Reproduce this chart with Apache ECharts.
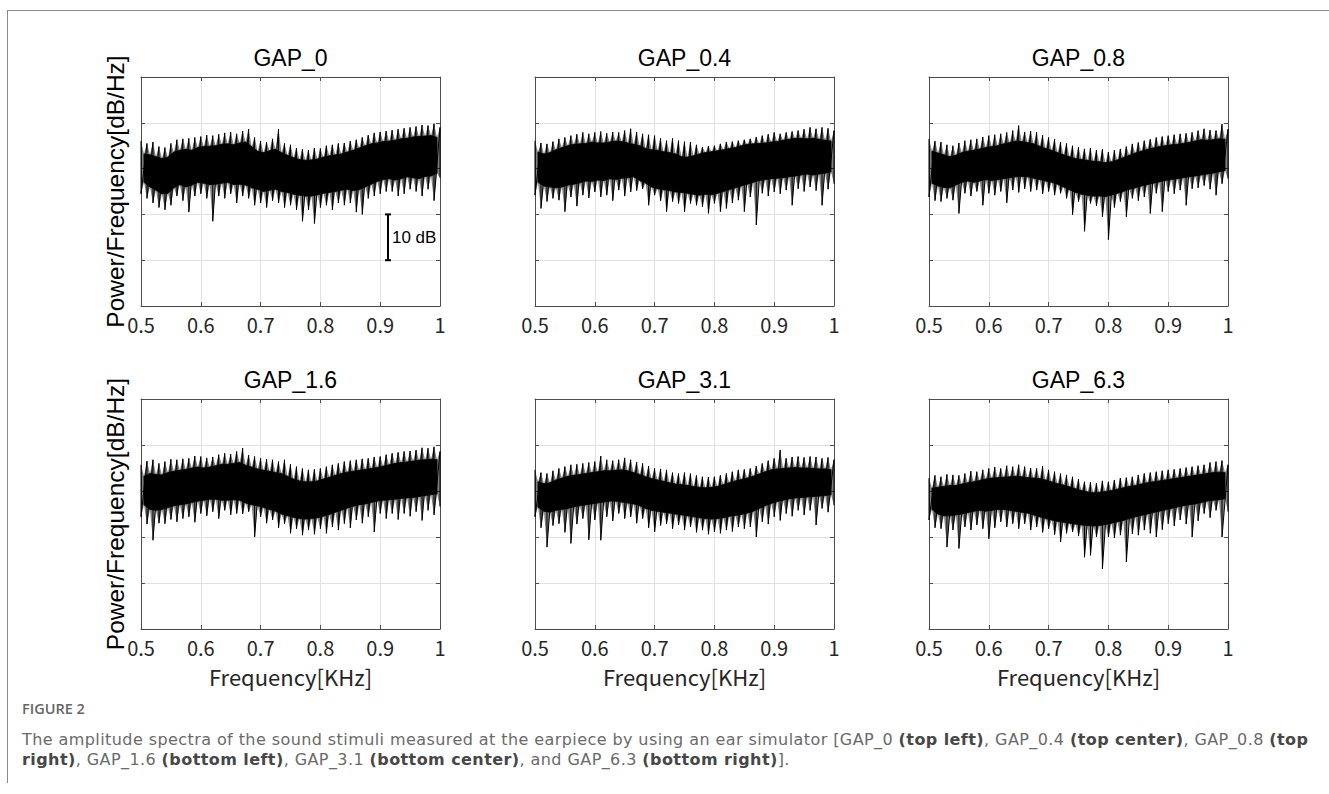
<!DOCTYPE html>
<html>
<head>
<meta charset="utf-8">
<script src="https://cdn.jsdelivr.net/npm/echarts@6/dist/echarts.min.js"></script>
<style>
html,body{margin:0;padding:0;background:#fff;}
#chart{position:absolute;left:0;top:0;width:1329px;height:794px;}
#frame{position:absolute;left:7px;top:10px;width:1322px;height:772px;border-top:1px solid #8a8a8a;border-left:1px solid #8a8a8a;}
#cap{position:absolute;left:22px;top:700px;width:1305px;color:#666;}
#cap .fig{font-family:'Open Sans',sans-serif;font-size:14.5px;font-weight:600;color:#666;line-height:18px;}
#cap .txt{font-family:'DejaVu Sans',sans-serif;font-size:16px;letter-spacing:0.42px;line-height:20px;margin-top:12px;white-space:nowrap;color:#6a6a6a;}
#cap b{color:#474747;font-weight:700;}
</style>
</head>
<body>
<div id="frame"></div>
<div id="chart"></div>
<div id="cap">
<div class="fig">FIGURE 2</div>
<div class="txt">The amplitude spectra of the sound stimuli measured at the earpiece by using an ear simulator [GAP_0 <b>(top left)</b>, GAP_0.4 <b>(top center)</b>, GAP_0.8 <b>(top</b><br><b>right)</b>, GAP_1.6 <b>(bottom left)</b>, GAP_3.1 <b>(bottom center)</b>, and GAP_6.3 <b>(bottom right)</b>].</div>
</div>
<script>
// ---------------- DATA ----------------
const panelTitles = ['GAP_0', 'GAP_0.4', 'GAP_0.8', 'GAP_1.6', 'GAP_3.1', 'GAP_6.3'];
const xTickLabels = ['0.5', '0.6', '0.7', '0.8', '0.9', '1'];
const xAxisName = 'Frequency[KHz]';
const yAxisName = 'Power/Frequency[dB/Hz]';
const scaleBarLabel = '10 dB';
const scaleBar = [0.913, 10, 20]; // freq, from dB, to dB

// frequency sample points (kHz): spike samples and in-between (core edge) samples
const freqTips = [0.50,0.51,0.52,0.53,0.54,0.55,0.56,0.57,0.58,0.59,0.60,0.61,0.62,0.63,0.64,0.65,0.66,0.67,0.68,0.69,0.70,0.71,0.72,0.73,0.74,0.75,0.76,0.77,0.78,0.79,0.80,0.81,0.82,0.83,0.84,0.85,0.86,0.87,0.88,0.89,0.90,0.91,0.92,0.93,0.94,0.95,0.96,0.97,0.98,0.99,1.00];
const freqMids = [0.505,0.515,0.525,0.535,0.545,0.555,0.565,0.575,0.585,0.595,0.605,0.615,0.625,0.635,0.645,0.655,0.665,0.675,0.685,0.695,0.705,0.715,0.725,0.735,0.745,0.755,0.765,0.775,0.785,0.795,0.805,0.815,0.825,0.835,0.845,0.855,0.865,0.875,0.885,0.895,0.905,0.915,0.925,0.935,0.945,0.955,0.965,0.975,0.985,0.995];

// GAP_0
const gap0UpperTips = [36.0,35.5,35.8,34.8,34.6,35.5,36.3,36.5,36.6,36.8,37.0,37.3,37.2,37.5,37.8,38.0,37.6,38.2,38.6,36.8,36.0,35.8,36.5,38.6,35.5,35.2,34.5,34.2,34.0,34.5,34.4,35.0,35.2,35.5,35.6,36.0,36.3,36.8,37.3,37.8,38.0,38.2,38.4,38.6,38.8,39.0,39.2,39.5,39.4,39.8,39.0];
const gap0UpperMids = [33.2,33.0,32.6,32.2,32.5,33.6,34.0,34.2,34.0,34.6,34.8,34.9,35.0,35.3,35.4,35.2,35.6,35.8,34.8,33.8,33.5,33.9,34.2,33.5,32.9,32.4,32.0,31.8,31.9,32.1,32.5,32.8,33.0,33.2,33.6,34.0,34.5,35.0,35.4,35.6,35.9,36.0,36.2,36.5,36.6,36.9,37.0,37.1,37.2,36.8];
const gap0LowerTips = [24.5,23.5,22.5,21.5,21.0,22.0,24.0,23.0,20.5,24.0,24.5,23.5,18.5,24.0,23.5,24.5,22.5,24.0,23.5,22.0,22.5,21.5,23.0,22.5,21.5,22.0,21.0,18.5,21.0,18.0,21.5,22.0,21.0,22.5,22.0,22.5,20.5,20.0,23.5,24.0,24.5,25.0,25.0,24.0,24.5,25.5,25.0,24.0,25.5,23.0,28.0];
const gap0LowerMids = [27.0,26.0,25.3,24.5,24.6,25.8,26.5,26.0,26.4,27.0,26.8,26.5,26.6,26.8,27.0,26.5,26.6,26.4,25.8,25.5,25.0,25.3,25.5,25.0,24.8,24.4,24.2,24.0,24.0,24.3,24.6,24.8,25.0,25.3,25.5,25.2,25.4,26.0,26.6,27.2,27.6,27.8,27.5,27.8,28.2,28.0,27.8,28.3,28.4,29.0];

// GAP_0.4
const gap04UpperTips = [36.1,35.6,35.4,35.9,36.5,36.8,37.2,37.5,37.9,37.6,37.9,38.1,37.7,38.0,37.9,38.3,38.7,38.0,37.6,37.4,37.2,36.6,36.1,36.6,36.1,35.9,35.8,35.2,34.7,34.9,35.0,35.4,35.8,35.9,36.1,36.3,36.5,36.9,37.2,37.5,37.9,37.6,37.9,38.1,38.3,38.6,39.0,38.7,39.0,38.8,38.3];
const gap04UpperMids = [33.6,33.2,33.5,34.1,34.6,35.0,35.3,35.4,35.5,35.8,35.6,35.6,35.8,36.0,35.9,35.6,35.3,35.0,34.4,34.1,34.0,33.7,33.5,33.2,32.6,32.5,32.8,33.2,33.5,33.7,33.9,34.1,34.4,34.6,35.0,35.3,35.4,35.5,35.6,35.8,35.9,36.2,36.4,36.6,36.6,36.5,36.6,36.4,36.2,36.0];
const gap04LowerTips = [24.2,21.3,22.8,23.5,23.1,20.6,23.8,21.8,24.2,23.6,24.9,23.8,24.2,23.0,25.3,24.0,24.9,25.2,25.6,22.0,24.2,23.0,20.6,22.8,22.4,20.6,22.4,22.0,21.7,20.2,22.4,20.6,21.3,22.5,23.1,20.6,23.8,17.7,24.6,24.0,24.9,24.5,25.3,22.0,25.6,25.0,26.0,25.2,22.0,25.5,26.7];
const gap04LowerMids = [27.0,26.2,26.0,25.8,26.0,26.4,26.6,26.9,27.3,27.2,27.5,27.4,27.8,27.6,27.9,28.0,28.2,27.4,26.8,26.0,25.6,25.4,25.2,24.9,24.8,24.6,24.4,24.2,24.4,24.3,24.6,25.0,25.4,25.8,26.2,26.6,27.0,27.4,27.6,27.8,27.9,28.0,28.2,28.4,28.6,28.8,28.6,28.8,29.0,29.3];

// GAP_0.8
const gap08UpperTips = [36.5,36.0,35.8,35.2,35.0,35.6,36.1,36.3,36.5,36.9,37.2,37.4,37.6,37.9,38.3,39.4,38.0,38.2,37.9,37.3,36.8,36.4,35.8,35.5,35.0,34.7,34.3,34.5,34.0,34.2,33.6,34.0,34.3,34.8,35.4,35.7,36.1,36.4,36.8,37.0,37.2,37.4,37.6,37.7,37.9,38.3,38.7,38.4,38.3,39.7,38.6];
const gap08UpperMids = [33.8,33.4,33.0,32.6,32.9,33.5,33.8,34.0,34.3,34.6,34.8,35.0,35.4,35.7,36.0,35.9,35.7,35.4,34.9,34.4,34.0,33.5,33.0,32.6,32.2,32.0,31.8,31.6,31.5,31.3,31.5,31.9,32.4,32.9,33.4,33.8,34.2,34.5,34.8,35.0,35.2,35.3,35.5,35.7,36.0,36.3,36.2,36.3,36.5,36.4];
const gap08LowerTips = [23.8,23.0,22.8,23.5,23.1,20.2,24.6,24.0,25.0,22.0,24.6,24.2,25.0,22.5,25.3,24.8,25.6,25.0,25.3,24.5,25.0,24.2,24.6,23.5,19.9,22.8,16.3,22.4,21.9,19.5,14.5,21.5,22.8,19.5,23.5,23.0,23.8,20.2,24.6,20.6,25.0,24.5,25.3,22.0,25.6,25.8,26.3,25.5,24.2,26.7,27.8];
const gap08LowerMids = [26.8,26.2,25.9,25.8,26.4,27.0,27.3,27.0,27.3,27.6,27.4,27.6,27.8,28.0,28.2,28.3,28.2,27.9,27.6,27.3,27.0,26.6,26.0,25.4,24.8,24.4,24.2,24.0,24.0,23.9,24.2,24.6,25.0,25.5,25.8,26.2,26.5,26.8,27.1,27.4,27.6,27.8,28.0,28.2,28.4,28.6,28.8,29.0,29.3,29.6];

// GAP_1.6
const gap16UpperTips = [35.7,36.5,36.8,36.0,36.4,36.9,36.8,37.0,37.1,37.6,37.5,37.2,37.4,37.9,38.2,38.0,38.6,39.3,37.8,37.5,37.1,36.9,36.8,36.4,36.8,35.8,35.3,34.9,34.6,34.7,34.9,35.3,35.7,36.0,36.4,36.6,36.8,37.0,37.1,37.4,37.5,37.9,38.2,38.4,38.6,38.7,38.9,39.4,39.3,39.6,38.6];
const gap16UpperMids = [33.2,33.8,33.6,33.5,34.0,34.3,34.5,34.7,35.0,35.2,35.0,35.2,35.5,35.8,35.8,36.0,36.2,35.6,35.2,34.8,34.5,34.3,34.0,33.8,33.2,32.6,32.2,32.0,32.0,32.2,32.6,33.0,33.4,33.8,34.1,34.3,34.5,34.7,34.9,35.1,35.4,35.7,36.0,36.2,36.3,36.5,36.7,36.8,36.9,36.8];
const gap16LowerTips = [24.4,22.8,19.3,23.0,22.9,23.8,23.3,24.0,24.4,23.2,25.1,24.6,25.5,24.0,25.8,24.8,25.1,25.0,25.5,20.0,24.4,23.0,23.7,22.0,22.9,20.8,21.8,20.4,21.5,20.6,21.8,20.8,22.2,21.5,22.9,22.0,23.7,23.0,24.4,21.1,25.1,24.0,25.1,23.8,25.1,24.5,25.5,23.6,25.8,24.8,26.6];
const gap16LowerMids = [27.0,26.0,25.8,26.0,26.4,26.8,27.0,27.2,27.5,27.8,28.0,28.2,28.2,28.0,28.0,28.1,28.0,27.4,27.0,26.8,26.4,26.0,25.6,25.0,24.6,24.3,24.0,23.9,24.0,24.2,24.5,24.9,25.4,25.8,26.3,26.7,27.0,27.2,27.5,27.8,28.0,28.1,28.2,28.4,28.5,28.6,28.8,29.0,29.2,29.4];

// GAP_3.1
const gap31UpperTips = [34.6,34.0,33.8,34.4,34.9,35.3,35.7,35.8,36.0,36.2,36.4,37.6,36.8,36.6,36.8,37.2,36.8,36.3,36.0,35.4,34.9,34.8,34.6,34.0,33.8,34.0,33.8,33.4,33.1,33.0,33.1,33.4,33.8,34.2,34.6,34.7,34.9,35.4,36.0,36.6,37.1,38.9,37.1,37.4,37.5,37.3,37.5,37.4,37.1,37.3,36.8];
const gap31UpperMids = [32.0,31.6,31.8,32.4,32.8,33.2,33.4,33.6,33.8,34.0,34.2,34.4,34.4,34.5,34.6,34.4,34.0,33.6,33.1,32.7,32.4,32.1,31.8,31.5,31.4,31.2,31.0,30.8,30.7,30.8,31.0,31.4,31.8,32.2,32.5,32.8,33.2,33.7,34.2,34.6,34.8,34.9,35.0,35.1,35.0,35.0,34.9,34.8,34.8,34.6];
const gap31LowerTips = [24.4,22.0,17.8,22.5,22.9,21.0,18.6,22.8,24.0,19.4,23.7,19.3,24.4,23.5,25.1,24.0,24.4,23.0,24.0,22.0,21.1,22.5,22.9,21.8,22.6,21.5,22.2,21.0,21.5,20.6,21.1,20.8,21.5,21.2,22.2,21.8,22.2,20.0,23.3,22.8,24.4,23.6,25.1,24.5,25.8,24.8,25.8,22.6,26.2,25.4,26.9];
const gap31LowerMids = [26.5,25.6,25.4,25.8,26.0,26.2,26.6,26.8,27.0,27.2,27.4,27.6,27.8,27.8,27.6,27.4,27.2,26.8,26.2,25.8,25.6,25.4,25.2,25.0,24.8,24.6,24.4,24.2,24.0,23.9,24.0,24.2,24.5,24.7,24.9,25.2,25.6,26.2,26.8,27.3,27.7,28.0,28.3,28.5,28.6,28.7,28.8,28.9,29.0,29.2];

// GAP_6.3
const gap63UpperTips = [32.8,33.4,33.1,33.6,33.5,33.4,33.8,34.3,34.2,34.6,34.9,35.2,34.9,35.5,35.3,35.7,35.3,35.0,34.9,35.4,34.6,34.2,33.8,33.5,33.1,32.6,32.0,31.9,31.7,32.2,32.0,32.4,32.8,32.9,33.1,33.5,33.8,34.0,34.2,34.4,34.6,34.7,34.9,35.1,35.3,35.5,35.7,36.2,36.4,36.6,35.7];
const gap63UpperMids = [30.6,30.8,31.0,31.2,31.2,31.5,31.8,32.0,32.3,32.6,32.8,32.9,33.0,33.1,33.2,33.1,32.9,32.8,32.7,32.4,32.0,31.6,31.3,30.9,30.5,30.1,29.8,29.6,29.7,29.9,30.1,30.4,30.7,31.0,31.2,31.5,31.8,32.0,32.2,32.4,32.6,32.8,33.0,33.2,33.4,33.6,33.8,34.0,34.1,34.0];
const gap63LowerTips = [23.7,22.0,21.8,17.8,21.5,17.5,22.2,21.5,22.6,21.8,19.6,22.0,23.3,22.2,22.9,21.8,22.9,21.5,22.2,21.0,21.8,20.5,18.9,20.8,21.1,20.2,15.6,16.0,20.0,13.1,20.0,19.8,20.4,14.6,20.7,20.4,21.5,20.8,20.0,21.6,22.9,22.4,23.7,22.8,20.0,23.5,25.1,24.2,25.8,20.0,25.5];
const gap63LowerMids = [26.0,25.0,24.6,24.6,24.8,25.0,25.3,25.6,25.8,25.6,25.8,26.0,26.0,25.8,25.6,25.4,25.2,24.8,24.4,24.0,23.7,23.4,23.2,23.0,22.8,22.6,22.5,22.4,22.5,22.7,23.0,23.3,23.6,24.0,24.4,24.7,25.0,25.3,25.6,25.9,26.2,26.5,26.8,27.0,27.2,27.5,27.8,28.0,28.1,28.3];

// ---------------- BUILD ----------------
function interleave(tips, mids) {
  const out = [];
  for (let i = 0; i < tips.length; i++) {
    out.push(tips[i]);
    if (i < mids.length) out.push(mids[i]);
  }
  return out;
}
const freq = interleave(freqTips, freqMids);
const panels = [
  [gap0UpperTips, gap0UpperMids, gap0LowerTips, gap0LowerMids],
  [gap04UpperTips, gap04UpperMids, gap04LowerTips, gap04LowerMids],
  [gap08UpperTips, gap08UpperMids, gap08LowerTips, gap08LowerMids],
  [gap16UpperTips, gap16UpperMids, gap16LowerTips, gap16LowerMids],
  [gap31UpperTips, gap31UpperMids, gap31LowerTips, gap31LowerMids],
  [gap63UpperTips, gap63UpperMids, gap63LowerTips, gap63LowerMids]
];

const gridLefts = [141, 535, 929];
const gridTops = [77, 399];
const gridW = 299, gridH = 229;
const axisColor = '#4d4d4d';
const tickFont = 'Noto Sans CJK JP';
const sansFont = 'Liberation Sans';

const grids = [], xAxes = [], yAxes = [], series = [], titles = [];
for (let p = 0; p < 6; p++) {
  const col = p % 3, row = Math.floor(p / 3);
  grids.push({ left: gridLefts[col], top: gridTops[row], width: gridW, height: gridH + (row === 1 ? 1 : 0), containLabel: false });
  titles.push({
    text: panelTitles[p], left: gridLefts[col] + gridW / 2, textAlign: 'center',
    top: gridTops[row] - 32, padding: 0,
    textStyle: { fontFamily: sansFont, fontSize: 23, fontWeight: 'normal', color: '#000', lineHeight: 26 }
  });
  xAxes.push({
    type: 'value', gridIndex: p, min: 0.5, max: 1, interval: 0.1, position: 'bottom',
    axisLine: { show: true, onZero: false, lineStyle: { color: axisColor, width: 1 } },
    axisTick: { show: true, inside: true, length: 4, lineStyle: { color: axisColor } },
    axisLabel: {
      show: true, margin: 8, color: '#262626', fontFamily: tickFont, fontSize: 20,
      formatter: v => xTickLabels[Math.round((v - 0.5) / 0.1)]
    },
    splitLine: { show: true, lineStyle: { color: '#e2e2e2', width: 1 } },
    name: row === 1 ? xAxisName : '', nameLocation: 'middle', nameGap: 36,
    nameTextStyle: { fontFamily: tickFont, fontSize: 22, color: '#262626' }
  });
  yAxes.push({
    type: 'value', gridIndex: p, min: 0, max: 50, interval: 10, position: 'left',
    axisLine: { show: true, onZero: false, lineStyle: { color: axisColor, width: 1 } },
    axisTick: { show: true, inside: true, length: 4, lineStyle: { color: axisColor } },
    axisLabel: { show: false },
    splitLine: { show: true, lineStyle: { color: '#e2e2e2', width: 1 } },
    name: col === 0 ? yAxisName : '', nameLocation: 'middle', nameGap: 13,
    nameTextStyle: { fontFamily: sansFont, fontSize: 24.5, color: '#000' }
  });
}
// mirrored top/right axes (box + inside ticks)
for (let p = 0; p < 6; p++) {
  xAxes.push({
    type: 'value', gridIndex: p, min: 0.5, max: 1, interval: 0.1, position: 'top',
    axisLine: { show: true, onZero: false, lineStyle: { color: axisColor, width: 1 } },
    axisTick: { show: true, inside: true, length: 4, lineStyle: { color: axisColor } },
    axisLabel: { show: false }, splitLine: { show: false }
  });
  yAxes.push({
    type: 'value', gridIndex: p, min: 0, max: 50, interval: 10, position: 'right',
    axisLine: { show: true, onZero: false, lineStyle: { color: axisColor, width: 1 } },
    axisTick: { show: true, inside: true, length: 4, lineStyle: { color: axisColor } },
    axisLabel: { show: false }, splitLine: { show: false }
  });
}

function bandPolygon(xs, lo, hi, style) {
  const rows = xs.map((f, k) => [f, lo[k], hi[k]]);
  return {
    data: rows,
    encode: { x: 0, y: [1, 2] },
    renderItem: function (params, api) {
      if (params.dataIndex !== 0) return null;
      const top = [], bot = [];
      for (let k = 0; k < rows.length; k++) {
        top.push(api.coord([rows[k][0], rows[k][2]]));
        bot.push(api.coord([rows[k][0], rows[k][1]]));
      }
      return { type: 'polygon', shape: { points: top.concat(bot.reverse()) }, style: style };
    }
  };
}

for (let p = 0; p < 6; p++) {
  const [ut, um, lt, lm] = panels[p];
  const upper = interleave(ut, um);
  const lower = interleave(lt, lm);
  // fuzzy fringe (spike region) in translucent black
  series.push(Object.assign({
    type: 'custom', xAxisIndex: p, yAxisIndex: p, silent: true, clip: true, z: 2
  }, bandPolygon(freq, lower, upper, { fill: 'rgba(0,0,0,0.5)' })));
  // dense core
  series.push(Object.assign({
    type: 'custom', xAxisIndex: p, yAxisIndex: p, silent: true, clip: true, z: 3
  }, bandPolygon(freqMids, lm, um, { fill: '#000', stroke: '#000', lineWidth: 0.8 })));
  // individual spikes at every tip sample
  const spikes = [];
  for (let k = 0; k < freqTips.length; k++) {
    spikes.push([freqTips[k], ut[k]]);
    spikes.push([freqTips[k], lt[k]]);
  }
  series.push({
    type: 'line', xAxisIndex: p, yAxisIndex: p, silent: true, z: 4,
    symbol: 'none', showSymbol: false, clip: true,
    lineStyle: { color: '#000', width: 1 },
    data: spikes
  });
}

// 10 dB scale bar in first panel
series.push({
  type: 'custom', xAxisIndex: 0, yAxisIndex: 0, silent: true, z: 10,
  encode: { x: 0, y: [1, 2] },
  data: [scaleBar],
  renderItem: function (params, api) {
    const a = api.coord([api.value(0), api.value(1)]);
    const b = api.coord([api.value(0), api.value(2)]);
    const st = { stroke: '#000', lineWidth: 2 };
    return {
      type: 'group', children: [
        { type: 'line', shape: { x1: a[0], y1: a[1], x2: b[0], y2: b[1] }, style: st },
        { type: 'line', shape: { x1: a[0] - 3, y1: a[1], x2: a[0] + 3, y2: a[1] }, style: st },
        { type: 'line', shape: { x1: b[0] - 3, y1: b[1], x2: b[0] + 3, y2: b[1] }, style: st },
        { type: 'text', style: { text: scaleBarLabel, x: a[0] + 4, y: (a[1] + b[1]) / 2, textAlign: 'left', textVerticalAlign: 'middle', fontFamily: sansFont, fontSize: 17, fill: '#000' } }
      ]
    };
  }
});

const chart = echarts.init(document.getElementById('chart'), null, { renderer: 'svg' });
chart.setOption({
  animation: false,
  backgroundColor: 'transparent',
  title: titles,
  grid: grids,
  xAxis: xAxes,
  yAxis: yAxes,
  series: series
});
</script>
</body>
</html>
